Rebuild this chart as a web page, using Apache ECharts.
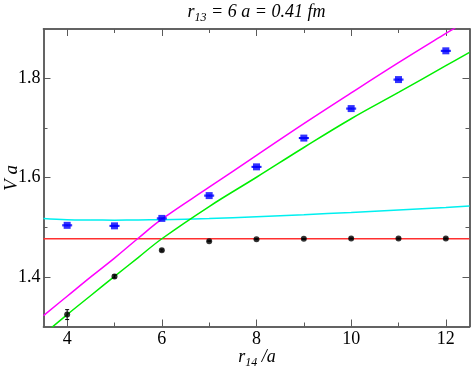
<!DOCTYPE html>
<html>
<head>
<meta charset="utf-8">
<script src="https://cdn.jsdelivr.net/npm/echarts@6/dist/echarts.min.js"></script>
<style>html,body{margin:0;padding:0;background:#fff}#c{width:471px;height:368px}</style>
</head>
<body>
<div id="c"></div>
<script>
// data
const rPoints = [4, 5, 6, 7, 8, 9, 10, 11, 12];
const blueV = [1.504, 1.503, 1.518, 1.564, 1.622, 1.680, 1.7395, 1.798, 1.856];
const blueErr = [0.001, 0.001, 0.001, 0.001, 0.001, 0.001, 0.001, 0.001, 0.001];
const blackV = [1.324, 1.401, 1.454, 1.472, 1.476, 1.4768, 1.4774, 1.4774, 1.4774];
const blackErr = [0.010, 0.003, 0.002, 0.001, 0.001, 0.001, 0.001, 0.001, 0.001];

const curveR = [3.5, 4, 4.5, 5, 5.5, 6, 7, 8, 9, 10, 11, 12, 12.5];
const magentaV = [1.322, 1.361, 1.400, 1.438, 1.478, 1.5165, 1.581, 1.645, 1.709, 1.771, 1.832, 1.891, 1.920];
const greenV = [1.284, 1.324, 1.3625, 1.401, 1.439, 1.477, 1.542, 1.601, 1.661, 1.719, 1.772, 1.826, 1.853];
const cyanV = [1.518, 1.5155, 1.5148, 1.5145, 1.5148, 1.5155, 1.5178, 1.5215, 1.5255, 1.530, 1.535, 1.540, 1.543];
const redR = [3.5, 12.5];
const redV = [1.477, 1.477];

const xMajor = [4, 6, 8, 10, 12];
const xMinor = [5, 7, 9, 11];
const yMajor = [1.4, 1.6, 1.8];
const yMinor = [1.5, 1.7];

const zip = (xs, ys) => xs.map((x, i) => [x, ys[i]]);
const serif = '"Liberation Serif", "DejaVu Serif", serif';
const axisColor = '#5a5a5a';

function xAx(pos, ticks, len, labels) {
  return {
    type: 'value', position: pos, min: 3.5, max: 12.5, interval: 0.5,
    axisLine: { show: true, onZero: false, lineStyle: { color: axisColor, width: 1.5 } },
    axisTick: { show: true, inside: true, length: len, customValues: ticks, lineStyle: { color: axisColor, width: 1 } },
    axisLabel: labels ? { show: true, customValues: ticks, fontFamily: serif, fontSize: 18, color: '#000', margin: 4 } : { show: false },
    splitLine: { show: false }
  };
}
function yAx(pos, ticks, len, labels) {
  return {
    type: 'value', position: pos, min: 1.3, max: 1.9, interval: 0.1,
    axisLine: { show: true, onZero: false, lineStyle: { color: axisColor, width: 1.5 } },
    axisTick: { show: true, inside: true, length: len, customValues: ticks, lineStyle: { color: axisColor, width: 1 } },
    axisLabel: labels ? { show: true, customValues: ticks, fontFamily: serif, fontSize: 18, color: '#000', margin: 3, formatter: v => v.toFixed(1) } : { show: false },
    splitLine: { show: false }
  };
}

function errBars(values, errs, color, cap) {
  return {
    type: 'custom', xAxisIndex: 0, yAxisIndex: 0, silent: true, z: 4,
    data: values.map((v, i) => [rPoints[i], v, errs[i]]),
    renderItem: function (params, api) {
      const x = api.value(0), y = api.value(1), e = api.value(2);
      const top = api.coord([x, y + e]);
      const bot = api.coord([x, y - e]);
      const st = { stroke: color, lineWidth: 1 };
      return { type: 'group', children: [
        { type: 'line', shape: { x1: top[0], y1: top[1], x2: bot[0], y2: bot[1] }, style: st },
        { type: 'line', shape: { x1: top[0] - cap, y1: top[1], x2: top[0] + cap, y2: top[1] }, style: st },
        { type: 'line', shape: { x1: bot[0] - cap, y1: bot[1], x2: bot[0] + cap, y2: bot[1] }, style: st }
      ] };
    }
  };
}

const richI = { fontFamily: serif, fontStyle: 'italic', fontSize: 18, fill: '#000', lineHeight: 24, verticalAlign: 'middle' };
const richS = { fontFamily: serif, fontStyle: 'italic', fontSize: 12, fill: '#000', lineHeight: 24, verticalAlign: 'bottom' };

const chart = echarts.init(document.getElementById('c'), null, { renderer: 'canvas' });
chart.setOption({
  animation: false,
  backgroundColor: '#fff',
  grid: { left: 43.5, right: 1.5, top: 29, bottom: 41.5, containLabel: false },
  xAxis: [xAx('bottom', xMajor, 7, true), xAx('bottom', xMinor, 4, false), xAx('top', xMajor, 7, false), xAx('top', xMinor, 4, false)],
  yAxis: [yAx('left', yMajor, 7, true), yAx('left', yMinor, 4, false), yAx('right', yMajor, 7, false), yAx('right', yMinor, 4, false)],
  graphic: [
    { type: 'text', x: 256.5, y: 12, style: { text: '{i|r}{s|13}{i| = 6 a = 0.41 fm}', align: 'center', verticalAlign: 'middle', rich: { i: richI, s: richS } } },
    { type: 'text', x: 257, y: 357, style: { text: '{i|r}{s|14}{i| /a}', align: 'center', verticalAlign: 'middle', rich: { i: richI, s: richS } } },
    { type: 'text', x: 12, y: 178, rotation: Math.PI / 2, style: { text: 'V a', align: 'center', verticalAlign: 'middle',
      fontFamily: serif, fontStyle: 'italic', fontSize: 19, fill: '#000' } }
  ],
  series: [
    { type: 'line', data: zip(redR, redV), showSymbol: false, lineStyle: { color: '#ff3030', width: 1.5 }, z: 2, silent: true },
    { type: 'line', data: zip(curveR, cyanV), smooth: 0.4, showSymbol: false, lineStyle: { color: '#00f0f0', width: 1.5 }, z: 2, silent: true },
    { type: 'line', data: zip(curveR, magentaV), smooth: 0.4, showSymbol: false, lineStyle: { color: '#ff00ff', width: 1.5 }, z: 2, silent: true },
    { type: 'line', data: zip(curveR, greenV), smooth: 0.4, showSymbol: false, lineStyle: { color: '#00ee00', width: 1.5 }, z: 2, silent: true },
    errBars(blueV, blueErr, '#0000ff', 5),
    errBars(blackV, blackErr, '#000000', 2),
    { type: 'scatter', data: zip(rPoints, blueV), symbol: 'rect', symbolSize: [7, 7], itemStyle: { color: '#0000ff' }, z: 5, silent: true },
    { type: 'scatter', data: zip(rPoints, blackV), symbol: 'circle', symbolSize: 6, itemStyle: { color: '#000000' }, z: 5, silent: true }
  ]
});
</script>
</body>
</html>
